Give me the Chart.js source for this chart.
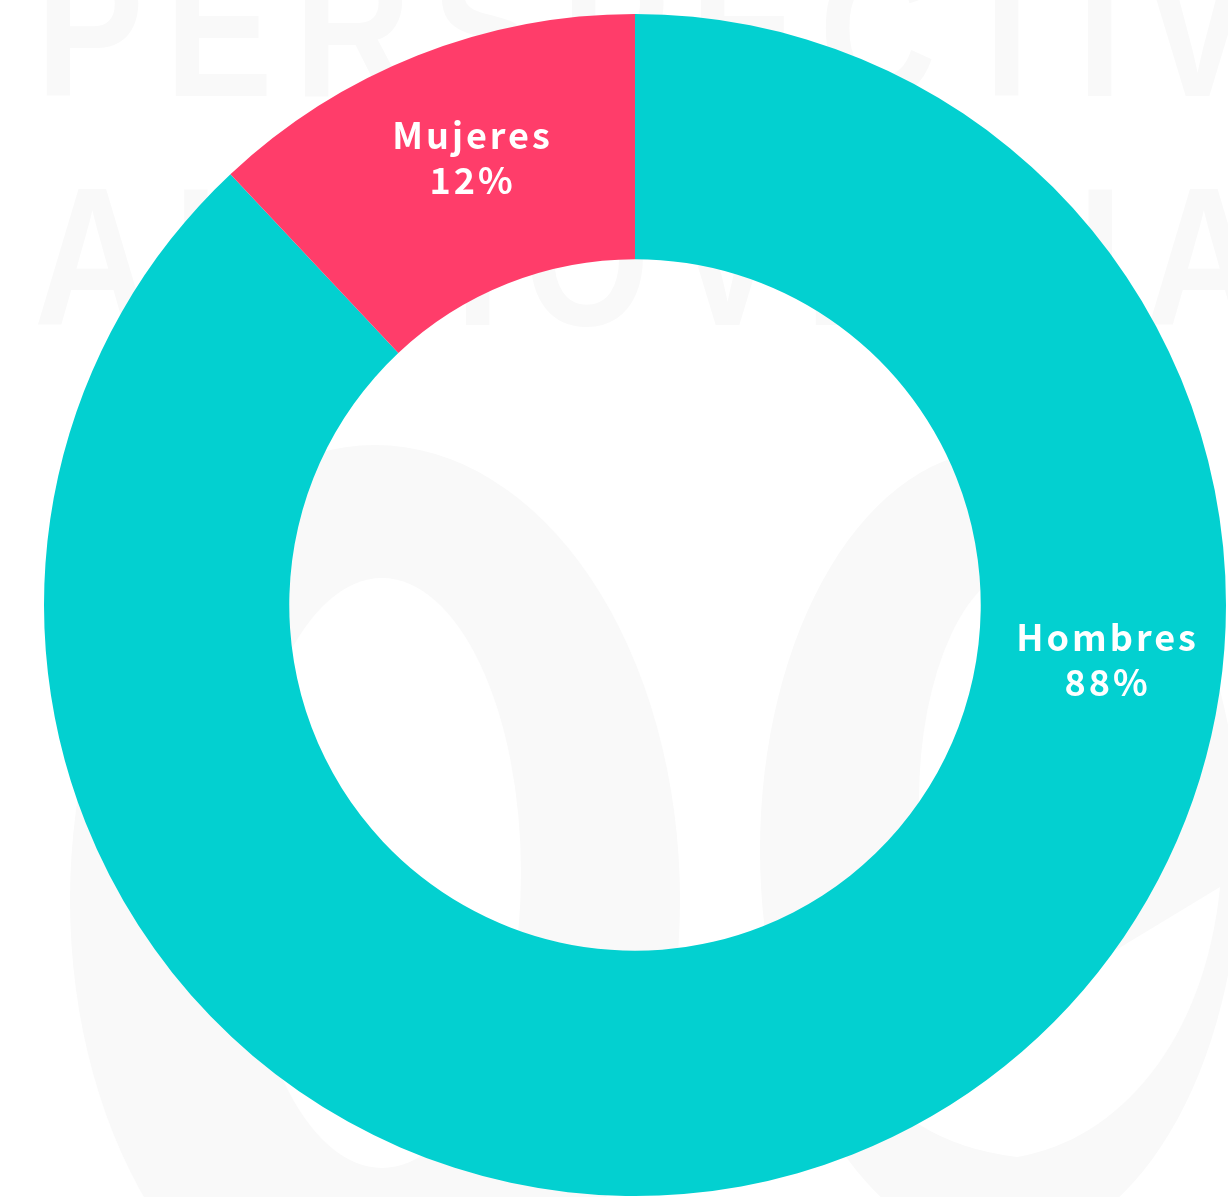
<!DOCTYPE html>
<html>
<head>
<meta charset="utf-8">
<script src="https://cdn.jsdelivr.net/npm/chart.js@4/dist/chart.umd.min.js"></script>
<style>
  html, body { margin: 0; padding: 0; background: #ffffff; }
  #wrap { width: 1228px; height: 1197px; position: relative; }
</style>
</head>
<body>
<div id="wrap"><canvas id="c" width="1228" height="1197"></canvas></div>
<script>
const categories = ['Hombres', 'Mujeres'];
const values = [88, 12];
const colors = ['#03d0d0', '#ff3d6a'];
const watermarkRows = ['PERSPECTIVA', 'AUDIOVISUAL'];

const watermark = {
  id: 'watermark',
  beforeDraw(chart) {
    const ctx = chart.ctx;
    const shade = '#f9f9f9';
    ctx.save();
    ctx.fillStyle = '#ffffff';
    ctx.fillRect(0, 0, chart.width, chart.height);
    ctx.fillStyle = shade;
    ctx.font = 'bold 197px "Liberation Sans", Arial, sans-serif';
    ctx.textBaseline = 'alphabetic';
    ctx.textAlign = 'left';
    const drawRow = (txt, x, y, spacing) => {
      ctx.save();
      ctx.translate(x, y);
      ctx.scale(0.82, 1);
      ctx.letterSpacing = spacing + 'px';
      ctx.fillText(txt, 0, 0);
      ctx.restore();
    };
    drawRow(watermarkRows[0], 36, 96, 26);
    drawRow(watermarkRows[1], 34, 325, 29);
    // arch shape (left)
    ctx.beginPath();
    ctx.ellipse(375, 900, 305, 455, 0, 0, Math.PI * 2);
    ctx.fill();
    ctx.fillStyle = '#ffffff';
    ctx.beginPath();
    ctx.ellipse(382, 873, 139, 295, 0, 0, Math.PI * 2);
    ctx.fill();
    // e-like shape (right)
    ctx.fillStyle = shade;
    ctx.beginPath();
    ctx.ellipse(1000, 850, 240, 400, 0, 0, Math.PI * 2);
    ctx.fill();
    ctx.fillStyle = '#ffffff';
    ctx.beginPath();
    ctx.ellipse(1030, 800, 111, 235, 0, 0, Math.PI * 2);
    ctx.fill();
    ctx.beginPath();
    ctx.moveTo(1220, 887);
    ctx.bezierCurveTo(1205, 1040, 1120, 1140, 1017, 1157);
    ctx.quadraticCurveTo(960, 1150, 920, 1125);
    ctx.lineTo(860, 1105);
    ctx.closePath();
    ctx.fill();
    ctx.restore();
  }
};

const sliceLabels = {
  id: 'sliceLabels',
  afterDatasetsDraw(chart, args, opts) {
    const ctx = chart.ctx;
    const meta = chart.getDatasetMeta(0);
    const total = values.reduce((a, b) => a + b, 0);
    meta.data.forEach((arc, i) => {
      const p = arc.getProps(['x', 'y', 'startAngle', 'endAngle', 'innerRadius', 'outerRadius'], true);
      let ang = (p.startAngle + p.endAngle) / 2;
      if (opts.angleShift && opts.angleShift[i] !== undefined) ang += opts.angleShift[i] * Math.PI / 180;
      const r = p.innerRadius + (p.outerRadius - p.innerRadius) * (opts.radiusFrac[i] ?? 0.5);
      const x = p.x + Math.cos(ang) * r;
      const y = p.y + Math.sin(ang) * r;
      ctx.save();
      ctx.fillStyle = '#ffffff';
      ctx.font = 'bold 36px "Noto Sans CJK JP", "Noto Sans", sans-serif';
      ctx.letterSpacing = '3px';
      ctx.textAlign = 'center';
      ctx.textBaseline = 'alphabetic';
      const pct = Math.round(values[i] / total * 100) + '%';
      ctx.fillText(categories[i], x + 1.5, y - 20);
      ctx.fillText(pct, x + 1.5, y + 25);
      ctx.restore();
    });
  }
};

new Chart(document.getElementById('c'), {
  type: 'doughnut',
  data: {
    labels: categories,
    datasets: [{
      data: values,
      backgroundColor: colors,
      borderWidth: 0,
      hoverOffset: 0
    }]
  },
  options: {
    responsive: false,
    animation: false,
    cutout: '58.5%',
    rotation: 0,
    layout: { padding: { left: 44, right: 2, top: 14, bottom: 1 } },
    plugins: {
      legend: { display: false },
      tooltip: { enabled: false },
      sliceLabels: { angleShift: [-60.4, 1.0], radiusFrac: [0.53, 0.49] }
    }
  },
  plugins: [watermark, sliceLabels]
});
</script>
</body>
</html>
